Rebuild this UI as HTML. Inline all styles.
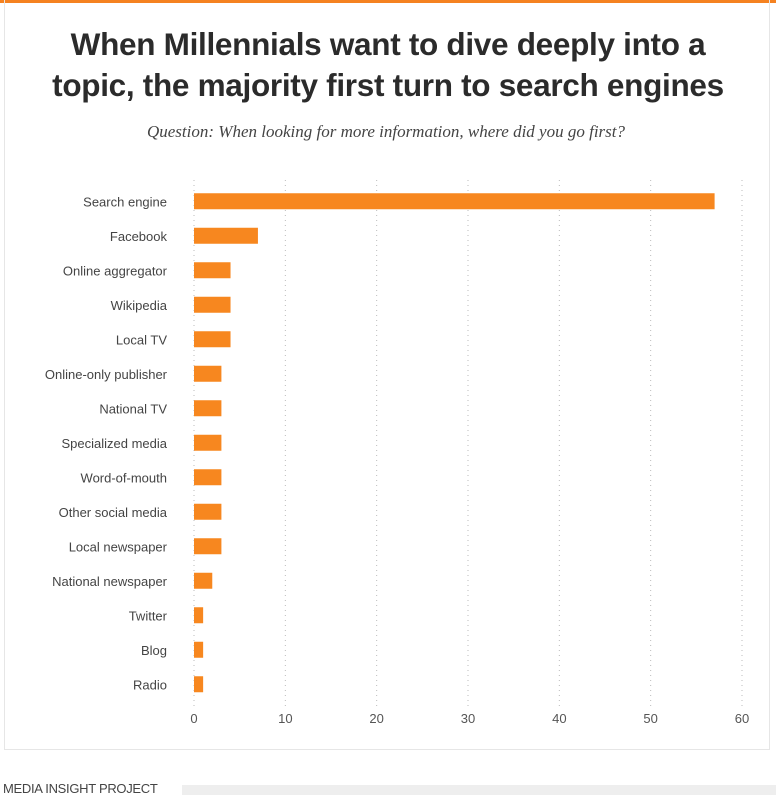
<!DOCTYPE html>
<html><head><meta charset="utf-8"><style>
body{margin:0;width:776px;height:800px;background:#fff;overflow:hidden;font-family:"Liberation Sans",sans-serif;}
#top{position:absolute;left:0;top:0;width:776px;height:3px;background:#f58220;}
#panel{position:absolute;left:4px;top:0;width:764px;height:749px;border:1px solid #e6e6e6;border-top:none;}
#title{position:absolute;left:0;width:776px;top:24px;text-align:center;font-weight:bold;font-size:31.5px;line-height:41px;color:#2b2b2b;letter-spacing:-0.3px;}
#sub{position:absolute;left:-2px;width:776px;top:122px;text-align:center;font-family:"Liberation Serif",serif;font-style:italic;font-size:17px;color:#444;}
#foot{position:absolute;left:3px;top:781px;font-size:13px;color:#444;letter-spacing:-0.3px;}
#footbar{position:absolute;left:182px;top:785px;width:594px;height:10px;background:#eee;}
</style></head><body>
<div id="top"></div>
<div id="panel"></div>
<div id="title">When Millennials want to dive deeply into a<br>topic, the majority first turn to search engines</div>
<div id="sub">Question: When looking for more information, where did you go first?</div>
<svg id="chart" width="776" height="800" style="position:absolute;left:0;top:0"></svg>
<div id="foot">MEDIA INSIGHT PROJECT</div>
<div id="footbar"></div>
<script>
const categories=["Search engine","Facebook","Online aggregator","Wikipedia","Local TV","Online-only publisher","National TV","Specialized media","Word-of-mouth","Other social media","Local newspaper","National newspaper","Twitter","Blog","Radio"];
const values=[57,7,4,4,4,3,3,3,3,3,3,2,1,1,1];
const ticks=[0,10,20,30,40,50,60];
const NS="http://www.w3.org/2000/svg";
const svg=document.getElementById('chart');
const x0=194,x1=742,xmax=60;
const X=v=>x0+(v/xmax)*(x1-x0);
const rowTop=192,step=34.5,barH=16;
const Y=i=>rowTop+i*step;
function mk(t,a){const e=document.createElementNS(NS,t);for(const k in a)e.setAttribute(k,a[k]);svg.appendChild(e);return e;}
ticks.forEach(t=>{
  const l=mk('line',{x1:X(t),x2:X(t),y1:180,y2:706,stroke:'#bbb','stroke-dasharray':'1,4','stroke-width':1});
  
  
  const tx=mk('text',{x:X(t),y:723,'text-anchor':'middle','font-size':13,fill:'#555','font-family':'Liberation Sans, sans-serif'});
  tx.textContent=t;
  
  
});
categories.forEach((c,i)=>{
  const y=Y(i);
  const r=mk('rect',{x:X(0),y:y+(step-barH)/2-8,width:X(values[i])-X(0),height:barH,fill:'#f7871f'});
  
  
  const t=mk('text',{x:167,y:y+step/2-3,'text-anchor':'end','font-size':13,fill:'#444','font-family':'Liberation Sans, sans-serif'});
  t.textContent=c;
  
  
});
</script>
</body></html>
